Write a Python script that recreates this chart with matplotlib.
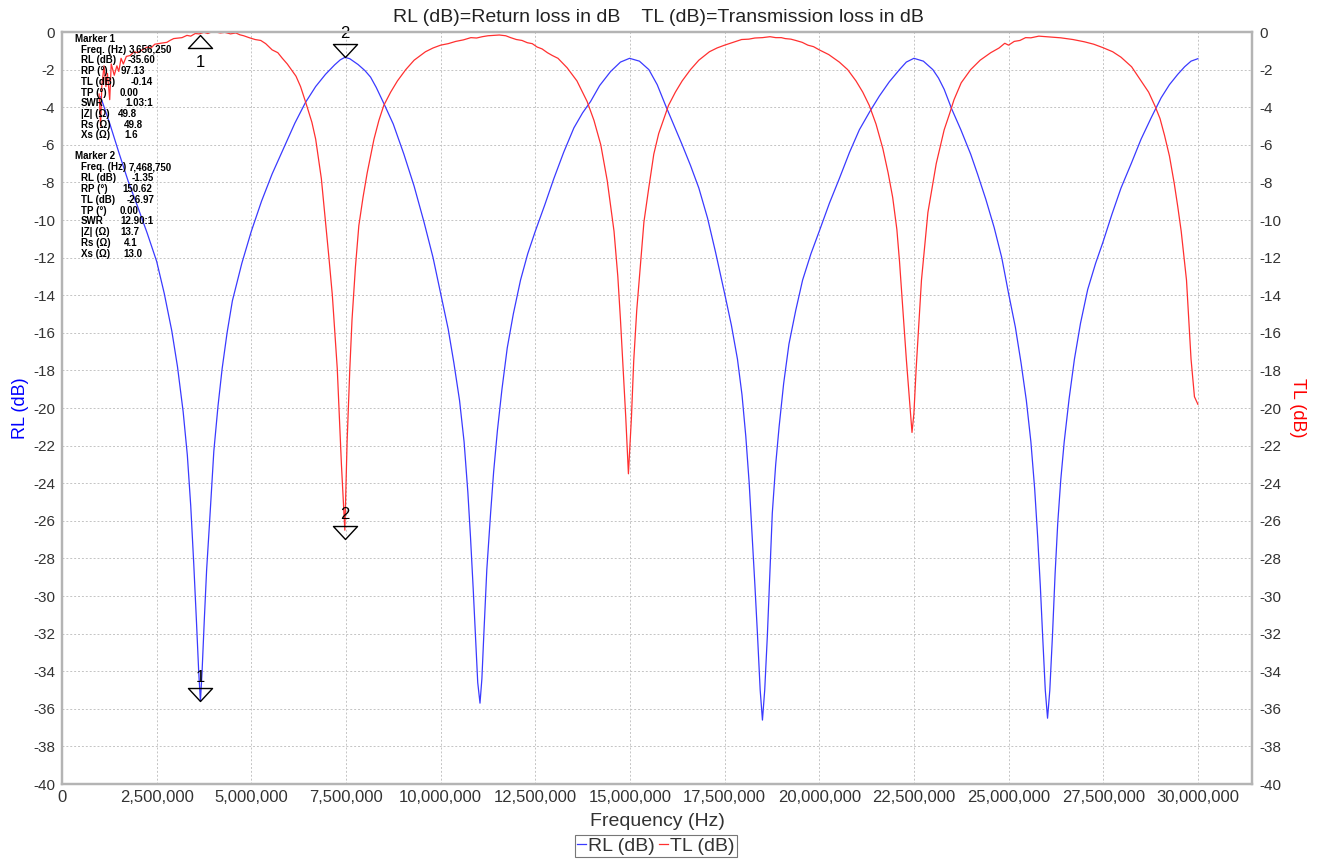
import matplotlib
matplotlib.use("Agg")
import matplotlib.pyplot as plt
from matplotlib.path import Path
from matplotlib.ticker import FuncFormatter

plt.rcParams['font.family'] = ['Liberation Sans', 'DejaVu Sans']
plt.rcParams['axes.unicode_minus'] = False

# ---------------- data (frequency in MHz, levels in dB) ----------------
rl_freq_mhz = [1.02, 1.25, 1.5, 1.75, 2.0, 2.25, 2.5, 2.7, 2.9, 3.05, 3.2, 3.31, 3.4, 3.48, 3.55,
               3.61, 3.656, 3.70, 3.76, 3.82, 3.9, 4.01, 4.12, 4.23, 4.36, 4.5, 4.75, 5.0, 5.27,
               5.55, 5.85, 6.15, 6.43, 6.7, 6.96, 7.2, 7.35, 7.47, 7.6, 7.82, 8.0, 8.15, 8.3,
               8.5, 8.75, 9.03, 9.3, 9.56, 9.8, 10.0, 10.2, 10.35, 10.5, 10.62, 10.72, 10.79,
               10.86, 10.92, 10.98, 11.04, 11.09, 11.14, 11.22, 11.32, 11.4, 11.5, 11.62, 11.76,
               11.92, 12.11, 12.3, 12.5, 12.75, 12.99, 13.25, 13.52, 13.75, 13.96, 14.2, 14.49,
               14.75, 14.99, 15.25, 15.5, 15.72, 15.94, 16.15, 16.38, 16.6, 16.82, 17.05, 17.26,
               17.5, 17.68, 17.84, 17.96, 18.06, 18.15, 18.23, 18.3, 18.37, 18.44, 18.5, 18.56,
               18.63, 18.7, 18.76, 18.85, 18.94, 19.06, 19.2, 19.38, 19.56, 19.78, 20.0, 20.27,
               20.53, 20.8, 21.06, 21.33, 21.59, 21.85, 22.12, 22.3, 22.5, 22.75, 23.0, 23.15,
               23.3, 23.5, 23.74, 24.0, 24.18, 24.4, 24.62, 24.82, 25.0, 25.18, 25.33, 25.47,
               25.59, 25.69, 25.77, 25.84, 25.9, 25.97, 26.03, 26.09, 26.16, 26.23, 26.3, 26.38,
               26.47, 26.6, 26.74, 26.9, 27.09, 27.3, 27.49, 27.73, 27.97, 28.24, 28.5, 28.77,
               29.03, 29.25, 29.47, 29.65, 29.82, 30.0]
rl_db = [-3.45, -4.8, -6.4, -7.95, -9.3, -10.7, -12.2, -13.9, -15.9, -17.8, -20.2, -22.5, -25.2, -28.3, -31.3,
         -34.0, -35.6, -34.0, -31.2, -28.6, -26.0, -22.3, -19.9, -17.9, -16.0, -14.3, -12.3, -10.6, -9.0,
         -7.55, -6.2, -4.85, -3.75, -2.9, -2.25, -1.75, -1.48, -1.35, -1.42, -1.73, -2.05, -2.4, -2.95,
         -3.8, -4.9, -6.5, -8.2, -10.1, -12.0, -13.9, -15.8, -17.6, -19.6, -21.8, -24.5, -26.9,
         -29.6, -32.1, -34.6, -35.7, -34.4, -32.1, -28.6, -25.6, -23.4, -21.2, -19.0, -16.8,
         -15.0, -13.2, -11.8, -10.6, -9.2, -7.8, -6.4, -5.1, -4.3, -3.7, -2.85, -2.1,
         -1.6, -1.4, -1.55, -2.0, -2.8, -3.9, -4.9, -6.0, -7.1, -8.3, -9.9, -11.7,
         -13.9, -15.6, -17.4, -19.3, -21.5, -24.0, -26.9, -29.4, -32.1, -35.0, -36.6, -35.0,
         -32.1, -28.6, -25.6, -23.0, -21.0, -18.7, -16.6, -14.8, -13.2, -11.8, -10.6, -9.1,
         -7.8, -6.4, -5.2, -4.25, -3.4, -2.65, -2.0, -1.6, -1.4, -1.55, -2.0, -2.45,
         -3.05, -4.1, -5.2, -6.5, -7.55, -8.9, -10.4, -12.0, -13.9, -15.7, -17.6, -19.6,
         -21.8, -24.3, -26.9, -29.5, -32.1, -35.0, -36.5, -35.0, -32.1, -28.8, -26.1, -23.8,
         -21.8, -19.5, -17.4, -15.5, -13.7, -12.3, -11.2, -9.7, -8.3, -7.0, -5.7, -4.55,
         -3.5, -2.8, -2.25, -1.85, -1.55, -1.42]

tl_freq_mhz = [0.98, 1.02, 1.05, 1.11, 1.16, 1.2, 1.26, 1.3, 1.38, 1.45, 1.5, 1.56, 1.62, 1.7,
               1.8, 1.9, 2.0, 2.12, 2.25, 2.35, 2.45, 2.6, 2.77, 2.85, 2.95, 3.17, 3.3, 3.4,
               3.52, 3.62, 3.75, 3.85, 3.95, 4.06, 4.18, 4.3, 4.45, 4.59, 4.7, 4.8, 4.94, 5.1,
               5.25, 5.38, 5.55, 5.7, 5.82, 5.95, 6.09, 6.18, 6.3, 6.43, 6.6, 6.7, 6.85, 6.96,
               7.05, 7.14, 7.27, 7.38, 7.47, 7.53, 7.6, 7.66, 7.75, 7.84, 7.95, 8.06, 8.24, 8.37,
               8.5, 8.68, 8.86, 9.08, 9.3, 9.6, 9.8, 10.0, 10.2, 10.4, 10.6, 10.8, 10.95, 11.1,
               11.25, 11.4, 11.55, 11.72, 11.85, 12.0, 12.15, 12.29, 12.42, 12.55, 12.68, 12.82,
               12.95, 13.1, 13.34, 13.6, 13.87, 14.05, 14.23, 14.4, 14.58, 14.68, 14.75, 14.89,
               14.96, 15.04, 15.1, 15.18, 15.37, 15.49, 15.63, 15.76, 16.02, 16.2, 16.38, 16.6,
               16.82, 17.1, 17.3, 17.5, 17.65, 17.8, 17.95, 18.14, 18.3, 18.5, 18.7, 18.85,
               19.0, 19.1, 19.25, 19.38, 19.55, 19.7, 19.85, 20.0, 20.25, 20.53, 20.75, 20.97,
               21.15, 21.32, 21.5, 21.68, 21.82, 21.94, 22.05, 22.12, 22.2, 22.3, 22.38, 22.45,
               22.5, 22.56, 22.63, 22.7, 22.87, 23.09, 23.3, 23.45, 23.56, 23.75, 24.0, 24.25,
               24.53, 24.75, 24.9, 25.0, 25.15, 25.3, 25.45, 25.59, 25.8, 26.0, 26.2, 26.38,
               26.55, 26.7, 26.85, 27.0, 27.25, 27.49, 27.75, 27.97, 28.25, 28.5, 28.7, 28.86,
               29.0, 29.12, 29.25, 29.38, 29.47, 29.56, 29.7, 29.82, 29.91, 30.0]
tl_db = [-3.3, -5.0, -2.9, -1.8, -2.9, -2.2, -3.6, -1.7, -2.3, -1.8, -2.1, -1.4, -1.7, -1.3,
         -1.25, -1.05, -1.1, -0.95, -0.8, -0.85, -0.65, -0.6, -0.55, -0.45, -0.35, -0.3, -0.18, -0.22,
         -0.08, -0.1, -0.02, -0.08, 0.0, 0.0, -0.05, -0.02, -0.1, -0.05, -0.15, -0.2, -0.3, -0.4,
         -0.45, -0.62, -0.95, -1.1, -1.4, -1.7, -2.1, -2.35, -2.9, -3.7, -4.8, -5.7, -7.8, -10.1,
         -12.0, -14.0, -17.9, -23.0, -26.5, -21.8, -18.0, -15.3, -12.5, -10.3, -8.8, -7.5, -5.7, -4.7,
         -3.9, -3.2, -2.6, -2.0, -1.5, -1.05, -0.85, -0.7, -0.62, -0.5, -0.42, -0.3, -0.32, -0.25,
         -0.2, -0.18, -0.16, -0.2, -0.3, -0.4, -0.45, -0.57, -0.62, -0.8, -0.9, -1.1,
         -1.25, -1.4, -1.9, -2.6, -3.7, -4.7, -6.0, -7.9, -10.6, -13.0, -15.3, -20.5,
         -23.5, -20.5, -17.5, -14.8, -10.1, -8.4, -6.5, -5.4, -3.9, -3.2, -2.6, -2.0,
         -1.5, -1.05, -0.85, -0.7, -0.6, -0.5, -0.4, -0.38, -0.32, -0.3, -0.25, -0.3,
         -0.3, -0.35, -0.38, -0.45, -0.55, -0.7, -0.78, -0.95, -1.2, -1.6, -2.0, -2.6,
         -3.2, -3.9, -4.9, -6.2, -7.5, -8.8, -10.5, -12.2, -14.5, -17.4, -19.5, -21.3,
         -20.3, -17.9, -15.5, -13.2, -9.6, -7.0, -5.2, -4.3, -3.6, -2.7, -2.0, -1.5,
         -1.1, -0.85, -0.6, -0.7, -0.5, -0.45, -0.3, -0.31, -0.22, -0.25, -0.28, -0.31,
         -0.36, -0.4, -0.46, -0.52, -0.65, -0.83, -1.05, -1.34, -1.85, -2.6, -3.2, -3.9,
         -4.6, -5.5, -6.6, -8.1, -9.3, -10.6, -13.2, -17.4, -19.4, -19.8]

y_ticks = list(range(-40, 1, 2))
x_ticks_hz = [0, 2500000, 5000000, 7500000, 10000000, 12500000, 15000000, 17500000,
              20000000, 22500000, 25000000, 27500000, 30000000]

marker_freq_hz = [3656250, 7468750]
marker_rl = [-35.60, -1.35]
marker_tl = [-0.14, -26.97]

marker1_rows = [("Freq. (Hz)", "3,656,250"), ("RL (dB)", "-35.60"), ("RP (°)", "97.13"),
                ("TL (dB)", "-0.14"), ("TP (°)", "0.00"), ("SWR", "1.03:1"),
                ("|Z| (Ω)", "49.8"), ("Rs (Ω)", "49.8"), ("Xs (Ω)", "1.6")]
marker2_rows = [("Freq. (Hz)", "7,468,750"), ("RL (dB)", "-1.35"), ("RP (°)", "150.62"),
                ("TL (dB)", "-26.97"), ("TP (°)", "0.00"), ("SWR", "12.90:1"),
                ("|Z| (Ω)", "13.7"), ("Rs (Ω)", "4.1"), ("Xs (Ω)", "13.0")]
value_x_px_1 = [129, 128, 121, 131, 120, 125, 118, 124, 124]
value_x_px_2 = [129, 132, 122, 127, 120, 120, 120, 124, 123]

# ---------------- figure ----------------
W, H = 1319, 860
fig = plt.figure(figsize=(W / 100, H / 100), dpi=100)
L, R, T, B = 62, 1252, 32, 784
ax = fig.add_axes([L / W, 1 - B / H, (R - L) / W, (B - T) / H])
ax2 = ax.twinx()

rl_freq = [f * 1e6 for f in rl_freq_mhz]
tl_freq = [f * 1e6 for f in tl_freq_mhz]

blue = '#3a3aff'
red = '#ff3030'
l1, = ax.plot(rl_freq, rl_db, color=blue, lw=0.9, label='RL (dB)', zorder=3)
l2, = ax.plot(tl_freq, tl_db, color=red, lw=0.9, label='TL (dB)', zorder=3)

for a in (ax, ax2):
    a.set_xlim(0, 31.43e6)
    a.set_ylim(-40, 0)
    a.set_yticks(y_ticks)
    a.set_yticklabels([str(v) for v in y_ticks])
    for s in a.spines.values():
        s.set_color('#b4b4b4')
        s.set_linewidth(1.6)
    a.tick_params(axis='y', length=0, labelsize=11, colors='#333333', pad=5)

ax.set_xticks(x_ticks_hz)
ax.xaxis.set_major_formatter(FuncFormatter(lambda v, p: '{:,.0f}'.format(v)))
ax.tick_params(axis='x', length=0, labelsize=12, colors='#333333', pad=4)
ax.grid(True, color='#c4c4c4', linestyle=(0, (2, 2)), linewidth=0.7)
ax.set_axisbelow(True)

ax.set_ylabel('RL (dB)', color='#0000ff', fontsize=13, labelpad=3)
ax2.set_ylabel('TL (dB)', color='#ff0000', fontsize=13, rotation=-90, labelpad=18)
ax.set_xlabel('Frequency (Hz)', color='#333333', fontsize=14, labelpad=6)

fig.text(658 / W, 1 - 18 / H, 'RL (dB)=Return loss in dB    TL (dB)=Transmission loss in dB',
         ha='center', va='center', fontsize=14, color='#222222')

# ---------------- markers ----------------
down_tri = Path([(-1, 1.08), (1, 1.08), (0, 0), (-1, 1.08)],
                [Path.MOVETO, Path.LINETO, Path.LINETO, Path.CLOSEPOLY])
up_tri = Path([(-1, -1.08), (1, -1.08), (0, 0), (-1, -1.08)],
              [Path.MOVETO, Path.LINETO, Path.LINETO, Path.CLOSEPOLY])

for i, (f, rl, tl) in enumerate(zip(marker_freq_hz, marker_rl, marker_tl)):
    lab = str(i + 1)
    ax.plot([f], [rl], marker=down_tri, ms=18.7, mfc='none', mec='black', mew=1.0,
            ls='none', zorder=5, clip_on=False)
    ax.annotate(lab, (f, rl), xytext=(0, 17), textcoords='offset points', ha='center',
                va='center', fontsize=12, zorder=6, annotation_clip=False)
    if tl > -1:
        ax.plot([f], [tl], marker=up_tri, ms=18.7, mfc='none', mec='black', mew=1.0,
                ls='none', zorder=5, clip_on=False)
        ax.annotate(lab, (f, tl), xytext=(0, -20), textcoords='offset points', ha='center',
                    va='center', fontsize=12, zorder=6)
    else:
        ax.plot([f], [tl], marker=down_tri, ms=18.7, mfc='none', mec='black', mew=1.0,
                ls='none', zorder=5, clip_on=False)
        ax.annotate(lab, (f, tl), xytext=(0, 18), textcoords='offset points', ha='center',
                    va='center', fontsize=12, zorder=6)

# ---------------- marker readout text ----------------
def put(xp, yp, s):
    fig.text(xp / W, 1 - yp / H, s, ha='left', va='center', fontsize=7,
             fontweight='bold', color='black', zorder=10)

put(75, 39, 'Marker 1')
y0 = 49.7
for k, (lab, val) in enumerate(marker1_rows):
    put(81, y0 + k * 10.7, lab)
    put(value_x_px_1[k], y0 + k * 10.7, val)
put(75, 156.3, 'Marker 2')
y0 = 167.3
for k, (lab, val) in enumerate(marker2_rows):
    put(81, y0 + k * 10.8, lab)
    put(value_x_px_2[k], y0 + k * 10.8, val)

# ---------------- legend ----------------
leg = fig.legend(handles=[l1, l2], loc='center', bbox_to_anchor=(656 / W, 1 - 846 / H),
                 ncol=2, frameon=True, fancybox=False, fontsize=14, handlelength=0.45,
                 handletextpad=0.12, columnspacing=0.2, borderpad=0.1, borderaxespad=0)
leg.get_frame().set_edgecolor('#555555')
leg.get_frame().set_linewidth(0.8)
for t in leg.get_texts():
    t.set_color('#333333')

fig.savefig('out.png', dpi=100)
